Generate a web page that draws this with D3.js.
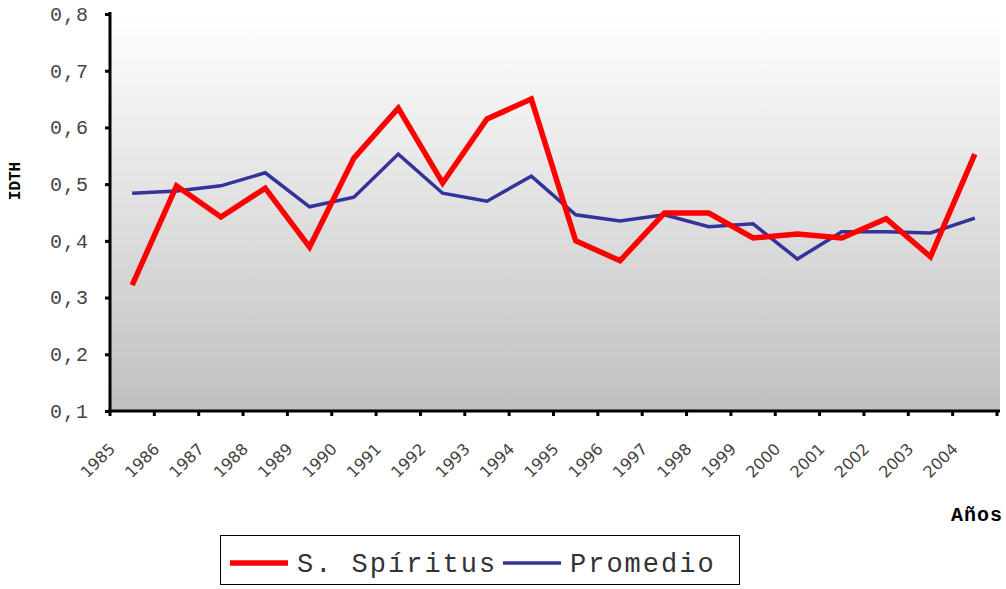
<!DOCTYPE html>
<html>
<head>
<meta charset="utf-8">
<script src="https://cdn.jsdelivr.net/npm/d3@7"></script>
<style>
  body { margin: 0; background: #fff; }
  svg { display: block; }
</style>
</head>
<body>
<svg id="chart" width="1006" height="589"></svg>
<script>
const years = ["1985","1986","1987","1988","1989","1990","1991","1992","1993","1994",
               "1995","1996","1997","1998","1999","2000","2001","2002","2003","2004"];
const spiritus = [0.322,0.497,0.442,0.493,0.389,0.546,0.634,0.502,0.615,0.650,
                  0.400,0.365,0.449,0.449,0.405,0.412,0.405,0.439,0.372,0.553];
const promedio = [0.484,0.488,0.497,0.520,0.460,0.477,0.553,0.484,0.470,0.514,
                  0.446,0.435,0.446,0.425,0.430,0.368,0.416,0.416,0.414,0.440];
const yTicks = [0.1,0.2,0.3,0.4,0.5,0.6,0.7,0.8];

const mono = "'Liberation Mono', 'Courier New', monospace";
const svg = d3.select("#chart");
const plotLeft = 110, plotRight = 997, plotTop = 14, plotBottom = 411;

const x = d3.scaleBand().domain(years).range([plotLeft, plotRight]);
const y = d3.scaleLinear().domain([0.1, 0.8]).range([plotBottom, plotTop]);

// background gradient
const grad = svg.append("defs").append("linearGradient")
    .attr("id", "bg").attr("x1", 0).attr("y1", 0).attr("x2", 0).attr("y2", 1);
grad.append("stop").attr("offset", "0%").attr("stop-color", "#ffffff");
grad.append("stop").attr("offset", "100%").attr("stop-color", "#c0c0c0");

svg.append("rect")
    .attr("x", plotLeft).attr("y", plotTop)
    .attr("width", 1000 - plotLeft).attr("height", plotBottom - plotTop)
    .attr("fill", "url(#bg)");

const line = d3.line()
    .x((d, i) => x(years[i]) + x.bandwidth() / 2)
    .y(d => y(d));

svg.append("path").datum(promedio)
    .attr("d", line)
    .attr("fill", "none").attr("stroke", "#333399").attr("stroke-width", 3.5);

svg.append("path").datum(spiritus)
    .attr("d", line)
    .attr("fill", "none").attr("stroke", "#ff0000").attr("stroke-width", 5.5);

// y axis
const yAxis = svg.append("g")
    .attr("transform", `translate(${plotLeft},0)`)
    .call(d3.axisLeft(y).tickValues(yTicks).tickSize(5).tickPadding(16)
        .tickFormat(d => d3.format(".1f")(d).replace(".", ",")));
yAxis.select(".domain").attr("stroke", "#000").attr("stroke-width", 3)
    .attr("d", `M0,${plotTop - 2}V${plotBottom}`);
yAxis.selectAll(".tick line").attr("stroke", "#000").attr("stroke-width", 3);
yAxis.selectAll(".tick text")
    .attr("font-family", mono)
    .attr("font-size", 20).attr("letter-spacing", 1).attr("fill", "#444");

// x axis
const xAxis = svg.append("g")
    .attr("transform", `translate(0,${plotBottom})`)
    .call(d3.axisBottom(x).tickSize(0).tickFormat(""));
xAxis.select(".domain").attr("stroke", "#000").attr("stroke-width", 3)
    .attr("d", `M${plotLeft - 2},0H${1000}`);

// category boundary ticks
const bounds = years.map(d => x(d)).concat([plotRight]);
xAxis.selectAll(".btick").data(bounds).enter().append("line")
    .attr("class", "btick")
    .attr("x1", d => d).attr("x2", d => d)
    .attr("y1", 0).attr("y2", 5)
    .attr("stroke", "#000").attr("stroke-width", 3);

xAxis.selectAll(".xlab").data(years).enter().append("text")
    .attr("class", "xlab")
    .attr("transform", d => `translate(${x(d) + x.bandwidth() / 2 - 16},${39}) rotate(-45)`)
    .attr("text-anchor", "end")
    .attr("font-family", "'DejaVu Sans', Verdana, sans-serif")
    .attr("font-size", 16).attr("fill", "#444")
    .text(d => d);

// axis titles
svg.append("text")
    .attr("transform", "translate(20,181) rotate(-90)")
    .attr("text-anchor", "middle")
    .attr("font-family", mono)
    .attr("font-weight", "bold").attr("font-size", 16)
    .text("IDTH");

svg.append("text")
    .attr("x", 1003).attr("y", 521)
    .attr("text-anchor", "end")
    .attr("font-family", mono)
    .attr("font-weight", "bold").attr("font-size", 20).attr("letter-spacing", 1)
    .text("Años");

// legend
const legend = svg.append("g");
legend.append("rect")
    .attr("x", 220.5).attr("y", 535.5).attr("width", 519).attr("height", 49)
    .attr("fill", "#fff").attr("stroke", "#000").attr("stroke-width", 1);

const items = [
  {name: "S. Spíritus", color: "#ff0000", width: 5.5, x: 230},
  {name: "Promedio", color: "#333399", width: 3.5, x: 503}
];
items.forEach(it => {
  legend.append("line")
      .attr("x1", it.x).attr("x2", it.x + 58)
      .attr("y1", 563).attr("y2", 563)
      .attr("stroke", it.color).attr("stroke-width", it.width);
  legend.append("text")
      .attr("x", it.x + 67).attr("y", 572)
      .attr("font-family", mono)
      .attr("font-size", 27).attr("letter-spacing", 2).attr("fill", "#333")
      .text(it.name);
});
</script>
</body>
</html>
